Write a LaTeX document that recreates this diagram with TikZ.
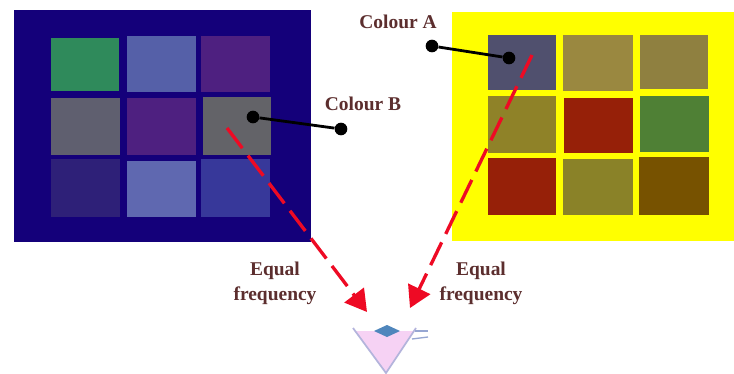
\documentclass[tikz,border=0pt]{standalone}
\usepackage{fontspec}
\setmainfont{Liberation Serif}
\usetikzlibrary{arrows.meta}
\definecolor{navybg}{HTML}{14007A}
\definecolor{yellowbg}{HTML}{FFFF00}
\definecolor{labelc}{HTML}{5C2E2E}
\definecolor{arrowred}{HTML}{EE0A24}
\definecolor{ca}{HTML}{2F8A5B}\definecolor{cb}{HTML}{5560A8}\definecolor{cc}{HTML}{4E2080}
\definecolor{cd}{HTML}{5F5F6F}\definecolor{cf}{HTML}{636368}
\definecolor{cg}{HTML}{2E2078}\definecolor{ch}{HTML}{5F68B0}\definecolor{ci}{HTML}{37389A}
\definecolor{da}{HTML}{50506E}\definecolor{db}{HTML}{9A8840}\definecolor{dc}{HTML}{8F8040}
\definecolor{dd}{HTML}{8F8228}\definecolor{de}{HTML}{962008}\definecolor{df}{HTML}{4F8035}
\definecolor{dh}{HTML}{8A8228}\definecolor{di}{HTML}{775200}
\definecolor{funnelfill}{HTML}{F6D2F4}\definecolor{funneledge}{HTML}{B4B4DC}\definecolor{diamondc}{HTML}{4F86BC}
\tikzset{
  x=0.75pt,y=-0.75pt,
  panel/.style={draw=none,inner sep=0pt,outer sep=0pt,rectangle},
  dotnode/.style={circle,fill=black,draw=none,minimum size=9.5pt,inner sep=0pt},
  leader/.style={draw=black,line width=2.1pt},
  eqarrow/.style={draw=arrowred,line width=2.5pt,dash pattern=on 19pt off 7pt,
    -{Triangle[length=16pt,width=18pt,fill=arrowred,sep=0pt]}},
  lab/.style={text=labelc,font=\bfseries\fontsize{14.6}{18.75}\selectfont,align=center,inner sep=0pt}
}
\newcommand{\cellbox}[6]{\node[panel,fill=#6,minimum width={(#3-#1)*0.75pt},minimum height={(#4-#2)*0.75pt}] (#5) at ({(#1+#3)/2},{(#2+#4)/2}) {};}
\begin{document}
\begin{tikzpicture}
\useasboundingbox[fill=white] (0,0) rectangle (734,374);
\cellbox{14}{10}{311}{242}{leftbg}{navybg}
\cellbox{452}{12}{734}{241}{rightbg}{yellowbg}
% left grid
\cellbox{51}{38}{119}{91}{la}{ca}
\cellbox{127}{36}{196}{92}{lb}{cb}
\cellbox{201}{36}{270}{92}{lc}{cc}
\cellbox{51}{98}{120}{155}{ld}{cd}
\cellbox{127}{98}{196}{155}{le}{cc}
\cellbox{203}{97}{271}{155}{lf}{cf}
\cellbox{51}{159}{120}{217}{lg}{cg}
\cellbox{127}{161}{196}{217}{lh}{ch}
\cellbox{201}{159}{270}{217}{li}{ci}
% right grid
\cellbox{488}{35}{556}{90}{ra}{da}
\cellbox{563}{35}{633}{91}{rb}{db}
\cellbox{640}{35}{708}{89}{rc}{dc}
\cellbox{488}{96}{556}{153}{rd}{dd}
\cellbox{564}{98}{633}{153}{re}{de}
\cellbox{640}{96}{709}{152}{rf}{df}
\cellbox{488}{158}{556}{215}{rg}{de}
\cellbox{563}{159}{633}{215}{rh}{dh}
\cellbox{639}{157}{709}{215}{ri}{di}
% funnel
\coordinate (fl) at (353,328);
\coordinate (fb) at (386,373);
\coordinate (fr) at (416,328);
\fill[funnelfill] (356,331) -- (fb) -- (413,331) -- cycle;
\draw[funneledge,line width=1.3pt] (fl) -- (fb) -- (fr);
\fill[diamondc] (374,331) -- (387,325) -- (400,331) -- (387,337) -- cycle;
\coordinate (fa1) at (415,331); \coordinate (fa2) at (428,331);
\coordinate (fb1) at (412,339); \coordinate (fb2) at (428,337);
\draw[funneledge!70!diamondc,line width=1pt] (fa1) -- (fa2);
\draw[funneledge!70!diamondc,line width=1pt] (fb1) -- (fb2);
% arrows
\coordinate (las) at (227,128); \coordinate (lat) at (367,312);
\coordinate (ras) at (532,55);  \coordinate (rat) at (410,308);
\draw[eqarrow] (las) -- (lat);
\draw[eqarrow] (ras) -- (rat);
% leaders
\node[dotnode] (d1) at (253,117) {};
\node[dotnode] (d2) at (341,129) {};
\node[dotnode] (d3) at (432,46) {};
\node[dotnode] (d4) at (509,58) {};
\draw[leader] (d1) -- (d2);
\draw[leader] (d3) -- (d4);
% labels
\node[lab] (colA) at (398,22) {Colour A};
\node[lab] (colB) at (363,104) {Colour B};
\node[lab] (eqL) at (275,283) {Equal\\frequency};
\node[lab] (eqR) at (481,283) {Equal\\frequency};
\end{tikzpicture}
\end{document}
